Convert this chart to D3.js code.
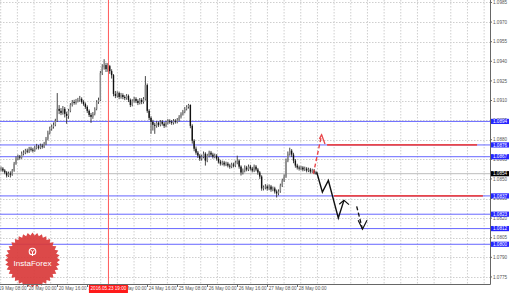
<!DOCTYPE html>
<html><head><meta charset="utf-8">
<script src="https://cdn.jsdelivr.net/npm/d3@7"></script>
<style>html,body{margin:0;padding:0;background:#fff;overflow:hidden}svg{display:block}</style>
</head><body><svg id="c" width="510" height="293"></svg>
<script>
// ---- data (EURUSD H1) ----
const firstOpen = 1.08571;
const closes = [1.08579,1.08564,1.08549,1.08526,1.08541,1.08533,1.08564,1.08617,1.08655,1.08670,
1.08663,1.08693,1.08701,1.08716,1.08709,1.08731,1.08724,1.08716,1.08739,1.08747,
1.08739,1.08754,1.08747,1.08769,1.08807,1.08853,1.08884,1.08899,1.08914,1.08944,
1.09036,1.09021,1.09005,1.09036,1.08998,1.08982,1.09021,1.09066,1.09089,1.09081,
1.09097,1.09104,1.09112,1.09089,1.09074,1.09051,1.09021,1.08990,1.08975,1.08998,
1.09036,1.09089,1.09104,1.09310,1.09355,1.09371,1.09340,1.09363,1.09325,1.09294,
1.09150,1.09135,1.09157,1.09127,1.09142,1.09127,1.09119,1.09135,1.09104,1.09066,
1.09097,1.09112,1.09097,1.09081,1.09104,1.09089,1.09112,1.09218,1.09021,1.08967,
1.08937,1.08914,1.08906,1.08929,1.08914,1.08937,1.08922,1.08906,1.08929,1.08944,
1.08937,1.08929,1.08944,1.08937,1.08952,1.08975,1.08998,1.09013,1.09036,1.09051,
1.09066,1.08906,1.08792,1.08731,1.08701,1.08678,1.08655,1.08670,1.08693,1.08640,
1.08678,1.08701,1.08686,1.08670,1.08678,1.08655,1.08632,1.08617,1.08625,1.08610,
1.08617,1.08602,1.08594,1.08610,1.08602,1.08625,1.08640,1.08594,1.08549,1.08564,
1.08587,1.08572,1.08594,1.08579,1.08564,1.08594,1.08572,1.08549,1.08518,1.08427,
1.08435,1.08442,1.08427,1.08442,1.08419,1.08427,1.08404,1.08389,1.08404,1.08450,
1.08488,1.08518,1.08640,1.08693,1.08716,1.08686,1.08640,1.08602,1.08587,1.08579,
1.08587,1.08572,1.08579,1.08564,1.08572,1.08556,1.08564,1.08549,1.08540];
const highs = [1.08595,1.08590,1.08575,1.08560,1.08556,1.08558,1.08576,1.08630,1.08672,1.08686,
1.08683,1.08710,1.08719,1.08730,1.08732,1.08745,1.08746,1.08738,1.08754,1.08768,
1.08760,1.08770,1.08769,1.08783,1.08821,1.08869,1.08900,1.08916,1.08932,1.08960,
1.09157,1.09065,1.09042,1.09058,1.09050,1.09014,1.09036,1.09080,1.09104,1.09106,
1.09112,1.09120,1.09135,1.09124,1.09102,1.09085,1.09063,1.09032,1.09005,1.09012,
1.09048,1.09102,1.09122,1.09326,1.09378,1.09416,1.09388,1.09386,1.09372,1.09339,
1.09302,1.09173,1.09170,1.09168,1.09158,1.09155,1.09140,1.09150,1.09146,1.09115,
1.09110,1.09128,1.09125,1.09110,1.09119,1.09118,1.09126,1.09287,1.09230,1.09034,
1.08980,1.08952,1.08930,1.08942,1.08940,1.08950,1.08950,1.08935,1.08944,1.08958,
1.08956,1.08950,1.08958,1.08957,1.08966,1.08988,1.09010,1.09028,1.09050,1.09064,
1.09074,1.09070,1.08918,1.08804,1.08748,1.08714,1.08690,1.08686,1.08710,1.08704,
1.08692,1.08716,1.08714,1.08700,1.08694,1.08690,1.08668,1.08646,1.08640,1.08638,
1.08632,1.08630,1.08616,1.08624,1.08624,1.08640,1.08678,1.08650,1.08604,1.08580,
1.08604,1.08600,1.08610,1.08608,1.08592,1.08610,1.08606,1.08584,1.08560,1.08528,
1.08450,1.08460,1.08456,1.08458,1.08454,1.08442,1.08440,1.08418,1.08420,1.08464,
1.08502,1.08534,1.08656,1.08710,1.08739,1.08728,1.08700,1.08652,1.08616,1.08602,
1.08600,1.08598,1.08594,1.08590,1.08586,1.08584,1.08578,1.08576,1.08562];
const lows = [1.08558,1.08552,1.08536,1.08511,1.08515,1.08511,1.08524,1.08555,1.08608,1.08643,
1.08648,1.08654,1.08680,1.08689,1.08696,1.08698,1.08710,1.08702,1.08708,1.08726,
1.08725,1.08728,1.08732,1.08736,1.08758,1.08795,1.08840,1.08869,1.08885,1.08903,
1.08936,1.08996,1.08988,1.08992,1.08970,1.08922,1.08960,1.09010,1.09054,1.09068,
1.09069,1.09085,1.09090,1.09076,1.09060,1.09036,1.09005,1.08974,1.08929,1.08960,
1.08986,1.09025,1.09074,1.09096,1.09295,1.09336,1.09318,1.09320,1.09304,1.09268,
1.09132,1.09118,1.09122,1.09110,1.09114,1.09110,1.09103,1.09106,1.09088,1.09050,
1.09055,1.09084,1.09080,1.09065,1.09070,1.09072,1.09076,1.09100,1.09006,1.08950,
1.08845,1.08870,1.08845,1.08892,1.08898,1.08902,1.08908,1.08890,1.08895,1.08916,
1.08922,1.08914,1.08916,1.08923,1.08925,1.08940,1.08962,1.08985,1.09002,1.09024,
1.09038,1.08888,1.08770,1.08712,1.08685,1.08660,1.08638,1.08640,1.08658,1.08602,
1.08628,1.08665,1.08670,1.08656,1.08658,1.08640,1.08618,1.08602,1.08604,1.08596,
1.08598,1.08588,1.08578,1.08582,1.08588,1.08590,1.08612,1.08578,1.08526,1.08534,
1.08550,1.08558,1.08560,1.08564,1.08550,1.08552,1.08558,1.08532,1.08500,1.08410,
1.08412,1.08420,1.08410,1.08414,1.08402,1.08406,1.08388,1.08358,1.08375,1.08394,
1.08438,1.08476,1.08508,1.08628,1.08678,1.08668,1.08620,1.08586,1.08572,1.08564,
1.08566,1.08558,1.08560,1.08550,1.08552,1.08542,1.08546,1.08536,1.08532];

const priceTicks = [1.0985,1.0970,1.0955,1.0940,1.0925,1.0910,1.0895,1.0880,1.0865,1.0850,1.0835,1.0820,1.0805,1.0790,1.0775];
const timeLabels = ["19 May 08:00","20 May 00:00","20 May 16:00","23 May 08:00","24 May 00:00","24 May 16:00","25 May 08:00","26 May 00:00","26 May 16:00","27 May 08:00","28 May 00:00"];
const timeLabelBars = [-2,14,30,46,62,78,94,110,126,142,158];
const levels = [1.0894,1.0876,1.0867,1.0837,1.0823,1.0812,1.0800];
const bidPrice = 1.0854;
const vLineBar = 57.3;
const vLineLabel = "2016.05.23 19:00";
// forecast annotations: [bar index, price]
const redLevelSegments = [[1.0876,173.9,253.9],[1.0837,177.6,257.0]];
const redDash = [[166.6,1.08539],[171.0,1.08838]];
const redHead = [[169.8,1.08806],[171.0,1.08838],[172.8,1.08767]];
const blackPath = [[168.4,1.08551],[171.4,1.08399],[174.6,1.08488],[179.9,1.08201],[182.9,1.08336]];
const blackHead = [[180.4,1.08306],[182.9,1.08336],[185.6,1.08303]];
const blackDash = [[189.7,1.08290],[192.8,1.08115]];
const blackDashHead = [[190.5,1.08183],[192.8,1.08115],[195.2,1.08183]];

// ---- drawing ----
const W = 510, H = 293, plotR = 490, plotB = 284;
const svg = d3.select("#c");
const x = d3.scaleLinear().domain([0,168]).range([1,316]);
const y = d3.scaleLinear().domain([1.07696,1.09869]).range([plotB,0]);
const font = "'Liberation Sans', Arial, sans-serif";

svg.append("rect").attr("width",W).attr("height",H).attr("fill","#fff");
const clip = svg.append("defs").append("clipPath").attr("id","pc");
clip.append("rect").attr("x",0).attr("y",0).attr("width",plotR).attr("height",plotB);
const plot = svg.append("g").attr("clip-path","url(#pc)");

// grid
plot.append("g").selectAll("line").data(priceTicks).join("line")
  .attr("x1",0).attr("x2",plotR)
  .attr("y1",d=>Math.round(y(d))+0.5).attr("y2",d=>Math.round(y(d))+0.5)
  .attr("stroke","#cfcfcf").attr("stroke-dasharray","1.5,1.5");
plot.append("g").selectAll("line").data(d3.range(0.7,plotR,16.67)).join("line")
  .attr("x1",d=>d).attr("x2",d=>d).attr("y1",0).attr("y2",plotB)
  .attr("stroke","#cfcfcf").attr("stroke-dasharray","1.5,1.5");

// bid line
plot.append("line").attr("x1",0).attr("x2",plotR)
  .attr("y1",y(bidPrice)).attr("y2",y(bidPrice)).attr("stroke","#bdbdbd");

// level lines
plot.append("g").selectAll("line").data(levels).join("line")
  .attr("x1",0).attr("x2",plotR)
  .attr("y1",d=>y(d)).attr("y2",d=>y(d))
  .attr("stroke","#6666ff").attr("stroke-width",1);

// candles
const bars = closes.map((c,i)=>({i,o:i?closes[i-1]:firstOpen,c,h:highs[i],l:lows[i]}));
const cg = plot.append("g");
cg.selectAll("line").data(bars).join("line")
  .attr("x1",d=>x(d.i)).attr("x2",d=>x(d.i))
  .attr("y1",d=>y(d.h)).attr("y2",d=>y(d.l))
  .attr("stroke","#333").attr("stroke-width",0.9);
cg.selectAll("rect").data(bars).join("rect")
  .attr("x",d=>x(d.i)-0.7).attr("width",1.4)
  .attr("y",d=>y(Math.max(d.o,d.c)))
  .attr("height",d=>Math.max(0.6,Math.abs(y(d.o)-y(d.c))))
  .attr("fill",d=>d.c>=d.o?"#8a8a8a":"#111");

// red vertical line
plot.append("line").attr("x1",x(vLineBar)).attr("x2",x(vLineBar))
  .attr("y1",0).attr("y2",plotB).attr("stroke","#ff5a5a").attr("stroke-width",1);

// forecasts
const ln = d3.line().x(d=>x(d[0])).y(d=>y(d[1]));
plot.append("g").selectAll("line").data(redLevelSegments).join("line")
  .attr("x1",d=>x(d[1])).attr("x2",d=>x(d[2]))
  .attr("y1",d=>y(d[0])).attr("y2",d=>y(d[0]))
  .attr("stroke","#e8464a").attr("stroke-width",1.8);
plot.append("path").attr("d",ln(redDash)).attr("fill","none")
  .attr("stroke","#e8464a").attr("stroke-width",1.4).attr("stroke-dasharray","4,2.5");
plot.append("path").attr("d",ln(redHead)).attr("fill","none")
  .attr("stroke","#e8464a").attr("stroke-width",1.3);
plot.append("path").attr("d",ln(blackPath)).attr("fill","none")
  .attr("stroke","#111").attr("stroke-width",1.4).attr("stroke-linejoin","miter");
plot.append("path").attr("d",ln(blackHead)).attr("fill","none")
  .attr("stroke","#111").attr("stroke-width",1.2);
plot.append("path").attr("d",ln(blackDash)).attr("fill","none")
  .attr("stroke","#111").attr("stroke-width",1.3).attr("stroke-dasharray","4,2.5");
plot.append("path").attr("d",ln(blackDashHead)).attr("fill","none")
  .attr("stroke","#111").attr("stroke-width",1.2);

// logo
const lx = 32.5, ly = 260, n = 36;
const star = d3.range(n*2).map(k=>{
  const a = k*Math.PI/n - Math.PI/2, r = k%2? 24.5 : 27.5;
  return [lx + r*Math.cos(a), ly + r*Math.sin(a)];
});
const logo = svg.append("g");
logo.append("path").attr("d","M"+star.join("L")+"Z").attr("fill","#d93a3a").attr("opacity",0.92);
logo.append("circle").attr("cx",lx).attr("cy",ly-8.5).attr("r",3.3).attr("fill","none").attr("stroke","#fff").attr("stroke-width",1.1);
logo.append("path").attr("d",`M${lx-2.2},${ly-10.5}L${lx},${ly-8}L${lx+2.2},${ly-10.5}M${lx},${ly-8}V${ly-4}`).attr("stroke","#fff").attr("stroke-width",1).attr("fill","none");
logo.append("text").attr("x",lx).attr("y",ly+5.5).attr("text-anchor","middle")
  .attr("font-family",font).attr("font-size",8).attr("fill","#fff").text("InstaForex");

// frame
svg.append("line").attr("x1",plotR+0.5).attr("x2",plotR+0.5).attr("y1",0).attr("y2",plotB+0.5).attr("stroke","#666");
svg.append("line").attr("x1",0).attr("x2",plotR+0.5).attr("y1",plotB+0.5).attr("y2",plotB+0.5).attr("stroke","#666");

// price axis labels
const fs = 4.6;
svg.append("g").selectAll("text").data(priceTicks).join("text")
  .attr("x",493).attr("y",d=>y(d)+1.6).attr("font-family",font).attr("font-size",fs)
  .attr("fill","#555").text(d=>d.toFixed(4));
svg.append("g").selectAll("line").data(priceTicks).join("line")
  .attr("x1",plotR).attr("x2",plotR+2).attr("y1",d=>y(d)).attr("y2",d=>y(d)).attr("stroke","#666");

// level label boxes
const boxes = levels.map(v=>({v,fill:"#2525ff"})).concat([{v:bidPrice,fill:"#000"}]);
const bg = svg.append("g").selectAll("g").data(boxes).join("g");
bg.append("rect").attr("x",491).attr("width",18).attr("y",d=>y(d.v)-2.6).attr("height",5.2).attr("fill",d=>d.fill);
bg.append("text").attr("x",493).attr("y",d=>y(d.v)+1.6).attr("font-family",font).attr("font-size",fs)
  .attr("fill","#fff").text(d=>d.v.toFixed(4));

// time axis
const tg = svg.append("g").selectAll("g").data(timeLabels.map((t,k)=>({t,b:timeLabelBars[k]}))).join("g");
tg.append("line").attr("x1",d=>Math.round(x(d.b))+0.5).attr("x2",d=>Math.round(x(d.b))+0.5)
  .attr("y1",plotB).attr("y2",plotB+3).attr("stroke","#666");
tg.append("text").attr("x",d=>x(d.b)+1.5).attr("y",plotB+6.2).attr("font-family",font).attr("font-size",fs)
  .attr("fill","#555").text(d=>d.t);

// vertical line time label
const vx = x(vLineBar);
svg.append("rect").attr("x",vx-19.5).attr("y",plotB+1).attr("width",39).attr("height",8).attr("fill","#ff1a1a");
svg.append("text").attr("x",vx).attr("y",plotB+6.4).attr("text-anchor","middle").attr("font-family",font)
  .attr("font-size",fs).attr("fill","#fff").text(vLineLabel);
</script></body></html>
